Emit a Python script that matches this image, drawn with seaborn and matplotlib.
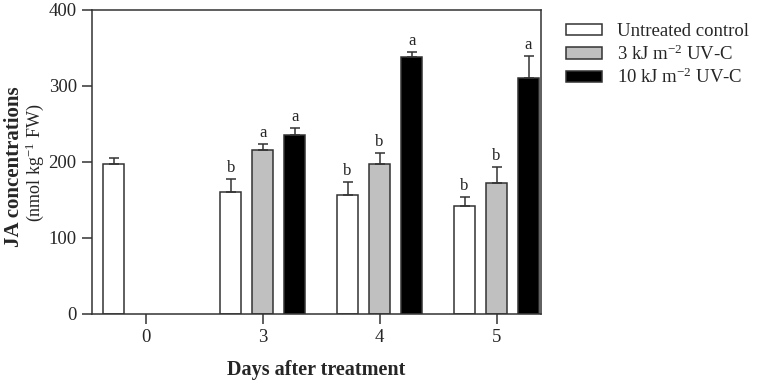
import numpy as np
import pandas as pd
import matplotlib
matplotlib.use("Agg")
import matplotlib.pyplot as plt
import seaborn as sns

days = ["0", "3", "4", "5"]
treatments = ["Untreated control", "3 kJ m$^{-2}$ UV-C", "10 kJ m$^{-2}$ UV-C"]
control_mean = [197, 161, 156, 142]
control_err = [8, 17, 18, 12]
uv3_mean = [np.nan, 216, 197, 173]
uv3_err = [np.nan, 8, 15, 21]
uv10_mean = [np.nan, 235, 338, 311]
uv10_err = [np.nan, 10, 7, 28]
control_letters = ["", "b", "b", "b"]
uv3_letters = ["", "a", "b", "b"]
uv10_letters = ["", "a", "a", "a"]

sns.set_theme(style="white")
plt.rcParams["font.family"] = ["Liberation Serif", "DejaVu Serif"]
plt.rcParams["mathtext.fontset"] = "custom"
plt.rcParams["mathtext.rm"] = "Liberation Serif"
plt.rcParams["mathtext.default"] = "regular"

rows = []
for t, means in zip(treatments, [control_mean, uv3_mean, uv10_mean]):
    for d, m in zip(days, means):
        rows.append({"day": d, "treatment": t, "value": m})
df = pd.DataFrame(rows)

fig = plt.figure(figsize=(7.65, 3.87), dpi=100)
ax = fig.add_axes([92/765, 1-314/387, (541-92)/765, (314-10)/387])

edge = "#333333"
palette = {treatments[0]: "white", treatments[1]: "#c0c0c0", treatments[2]: "black"}
sns.barplot(data=df, x="day", y="value", hue="treatment", order=days,
            hue_order=treatments, palette=palette, errorbar=None,
            width=0.82, gap=0.34, edgecolor=edge, linewidth=1.1, ax=ax,
            saturation=1)

errs = [control_err, uv3_err, uv10_err]
letters = [control_letters, uv3_letters, uv10_letters]
for cont, e_list, l_list in zip(ax.containers, errs, letters):
    for bar in cont.patches:
        h = bar.get_height()
        xc = bar.get_x() + bar.get_width()/2
        i = int(round(xc))
        e = e_list[i]
        lab = l_list[i]
        if np.isnan(h) or np.isnan(e):
            continue
        ax.errorbar([xc], [h], yerr=[[0], [e]], fmt="none", ecolor=edge,
                    elinewidth=1.1, capsize=3.5, capthick=1.1)
        if lab:
            ax.text(xc, h + e + 4, lab, ha="center", va="bottom", fontsize=12)

ax.set_xlim(-0.459, 3.38)
ax.set_ylim(0, 400)
ax.set_yticks([0, 100, 200, 300, 400])
ax.set_xlabel("")
ax.set_ylabel("")
for s in ax.spines.values():
    s.set_color(edge)
    s.set_linewidth(1.1)
ax.tick_params(axis="both", which="both", direction="out", length=7, width=1.1,
               color=edge, labelsize=13.5, left=True, bottom=True, pad=4)

ax.legend(loc="upper left", bbox_to_anchor=(1.027, 1.0), frameon=False,
          fontsize=13.5, handlelength=1.9, handleheight=0.55, labelspacing=0.22,
          handletextpad=0.8, borderaxespad=0.3)

fig.text(0.5*(92+541)/765 - 0.0, 1-370/387, "Days after treatment", ha="center",
         va="center", fontsize=14.5, fontweight="bold")
fig.text(14/765, 1-167/387, "JA concentrations", rotation=90, ha="center",
         va="center", fontsize=15, fontweight="bold")
fig.text(35/765, 1-163/387, "(nmol kg$^{-1}$ FW)", rotation=90, ha="center",
         va="center", fontsize=13)

fig.savefig("out.png", dpi=100)
